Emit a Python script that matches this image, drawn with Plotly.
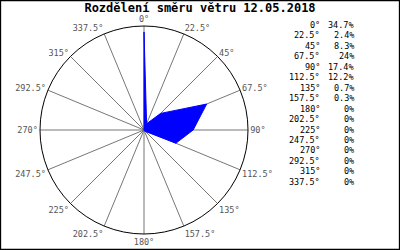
import plotly.graph_objects as go

directions = [0, 22.5, 45, 67.5, 90, 112.5, 135, 157.5, 180, 202.5, 225, 247.5, 270, 292.5, 315, 337.5]
percent = [34.7, 2.4, 8.3, 24, 17.4, 12.2, 0.7, 0.3, 0, 0, 0, 0, 0, 0, 0, 0]
title_text = "Rozdělení směru větru 12.05.2018"

dir_labels = [f"{d:g}°" for d in directions]
val_labels = [f"{v:g}%" for v in percent]

W, H = 400, 250
mono = "DejaVu Sans Mono"

fig = go.Figure()
fig.add_trace(go.Scatterpolar(
    r=percent + [percent[0]],
    theta=directions + [directions[0]],
    mode="lines",
    fill="toself",
    fillcolor="#0000ff",
    line=dict(color="#0000ff", width=1),
    hoverinfo="skip",
    showlegend=False,
))

annotations = []
for i, (dl, vl) in enumerate(zip(dir_labels, val_labels)):
    ypx = 25 + i * 10.45
    annotations.append(dict(
        x=322 / W, y=1 - ypx / H, xref="paper", yref="paper",
        text=dl, showarrow=False, xanchor="right", yanchor="middle",
        font=dict(family=mono, size=8.5, color="#000000"),
    ))
    annotations.append(dict(
        x=356 / W, y=1 - ypx / H, xref="paper", yref="paper",
        text=vl, showarrow=False, xanchor="right", yanchor="middle",
        font=dict(family=mono, size=8.5, color="#000000"),
    ))

cx, cy, rad = 144, 130, 104
fig.update_layout(
    width=W, height=H,
    margin=dict(l=0, r=0, t=0, b=0),
    paper_bgcolor="white",
    plot_bgcolor="white",
    title=dict(
        text=title_text, x=0.5, xanchor="center", xref="paper",
        y=1 - 7.5 / H, yanchor="middle", yref="paper",
        font=dict(family=mono, size=12, color="#000000", weight="bold"),
    ),
    polar=dict(
        domain=dict(x=[(cx - rad) / W, (cx + rad) / W],
                    y=[1 - (cy + rad) / H, 1 - (cy - rad) / H]),
        bgcolor="white",
        radialaxis=dict(range=[0, 36.8], visible=False, showgrid=False),
        angularaxis=dict(
            direction="clockwise", rotation=90,
            tickmode="array", tickvals=directions, ticktext=dir_labels,
            showgrid=True, gridcolor="#777777", gridwidth=1,
            showline=True, linecolor="#000000", linewidth=1,
            ticks="", tickfont=dict(family=mono, size=8.5, color="#555555"),
        ),
    ),
    annotations=annotations,
    shapes=[dict(type="rect", xref="paper", yref="paper", x0=0.001, y0=0.002, x1=0.999, y1=0.998,
                 line=dict(color="#000000", width=1.5))],
)

fig.write_html("out.html")
